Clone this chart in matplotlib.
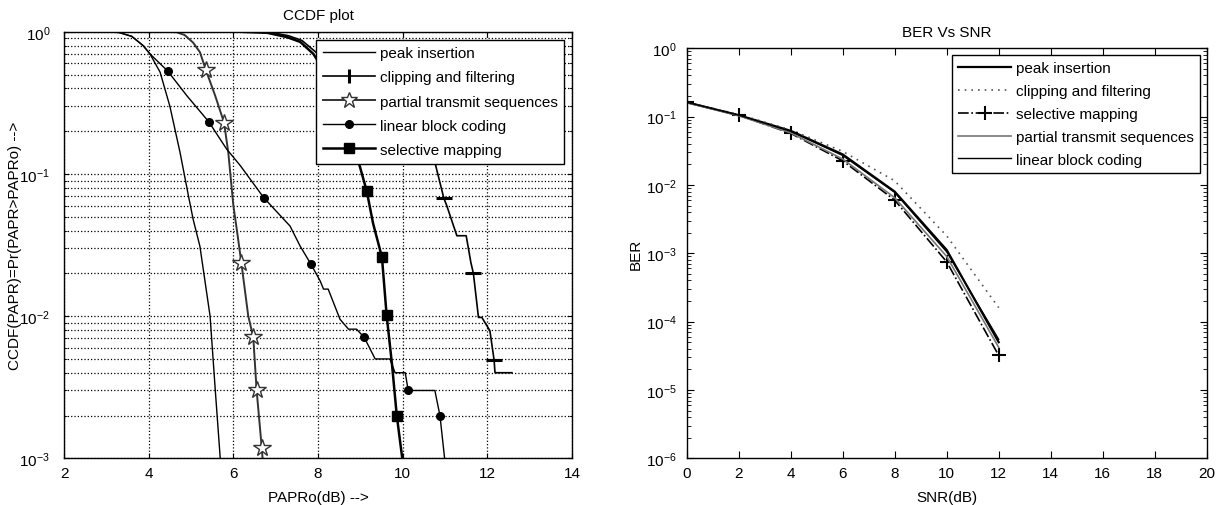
import matplotlib
matplotlib.use("Agg")
import matplotlib.pyplot as plt
from matplotlib import font_manager
from matplotlib.lines import Line2D
from matplotlib.ticker import LogLocator, NullFormatter, FixedLocator

names = {f.name for f in font_manager.fontManager.ttflist}
fam = "Liberation Sans Narrow" if "Liberation Sans Narrow" in names else "Liberation Sans"
plt.rcParams['font.family'] = [fam, 'DejaVu Sans']
plt.rcParams['mathtext.fontset'] = 'custom'
plt.rcParams['mathtext.rm'] = fam
plt.rcParams['mathtext.it'] = fam
plt.rcParams['mathtext.bf'] = fam

# ---------------- CCDF data ----------------
peak_x = [3.0, 3.3, 3.6, 3.87, 4.03, 4.27, 4.50, 4.74, 4.94, 5.05, 5.21, 5.45, 5.57, 5.69]
peak_y = [1.0, 0.99, 0.93, 0.80, 0.70, 0.52, 0.30, 0.142, 0.070, 0.048, 0.031, 0.010, 0.0031, 0.001]

clip_x = [6.3, 6.9, 7.3, 7.62, 7.95, 8.5, 9.1, 9.7, 10.3, 10.76, 10.97, 11.04, 11.28, 11.50, 11.61,
          11.67, 11.79, 11.87, 12.06, 12.16, 12.18, 12.58]
clip_y = [1.0, 0.99, 0.94, 0.87, 0.72, 0.52, 0.38, 0.27, 0.18, 0.121, 0.068, 0.060, 0.0368, 0.0368,
          0.0239, 0.020, 0.0098, 0.0098, 0.0079, 0.0049, 0.004, 0.004]
clip_marks = [10, 15, 19]

pts_x = [4.4, 4.66, 4.85, 5.05, 5.21, 5.35, 5.57, 5.78, 5.88, 6.0, 6.09, 6.19, 6.35, 6.47, 6.55, 6.67, 6.69]
pts_y = [1.0, 0.995, 0.95, 0.84, 0.72, 0.54, 0.356, 0.23, 0.142, 0.060, 0.039, 0.0236, 0.0101, 0.0071,
         0.003, 0.00119, 0.001]
pts_marks = [5, 7, 11, 13, 14, 15]

lbc_x = [3.0, 3.3, 3.6, 3.87, 4.03, 4.45, 4.90, 5.42, 5.84, 6.16, 6.72, 7.34, 7.58, 7.83, 8.05, 8.13,
         8.24, 8.52, 8.72, 8.91, 9.09, 9.35, 9.70, 9.82, 10.06, 10.13, 10.76, 10.88, 10.99]
lbc_y = [1.0, 0.99, 0.93, 0.80, 0.70, 0.53, 0.356, 0.233, 0.15, 0.115, 0.068, 0.043, 0.031, 0.0233,
         0.0177, 0.0155, 0.0155, 0.0095, 0.0081, 0.0081, 0.0071, 0.0050, 0.0050, 0.0040, 0.0040,
         0.0030, 0.0030, 0.0020, 0.001]
lbc_marks = [5, 7, 10, 13, 20, 25, 27]

slm_x = [6.24, 6.8, 7.26, 7.58, 7.89, 8.2, 8.5, 8.75, 8.96, 9.15, 9.3, 9.51, 9.62, 9.75, 9.86, 9.99]
slm_y = [1.0, 0.985, 0.92, 0.85, 0.70, 0.50, 0.32, 0.19, 0.121, 0.076, 0.045, 0.026, 0.0102, 0.0045,
         0.002, 0.001]
slm_marks = [9, 11, 12, 14]

# ---------------- BER data ----------------
snr = [0, 2, 4, 6, 8, 10, 12]
ber_peak = [0.162, 0.105, 0.062, 0.028, 0.0080, 0.00112, 5.0e-5]
ber_clip = [0.162, 0.108, 0.064, 0.031, 0.0115, 0.0018, 1.6e-4]
ber_slm = [0.162, 0.105, 0.057, 0.0226, 0.0060, 7.5e-4, 3.2e-5]
ber_pts = [0.160, 0.103, 0.058, 0.024, 0.0065, 9.0e-4, 4.2e-5]
ber_lbc = [0.162, 0.105, 0.061, 0.027, 0.0078, 1.05e-3, 5.5e-5]

FS = 11
fig = plt.figure(figsize=(12.22, 5.06), dpi=100)
ax1 = fig.add_axes([0.0524, 0.0923, 0.4157, 0.8427])
ax2 = fig.add_axes([0.5619, 0.0923, 0.4256, 0.8103])

# ---- left ----
ax1.plot(peak_x, peak_y, color='black', lw=1.0)
ax1.plot(clip_x, clip_y, color='black', lw=1.2, marker='_', ms=12, mew=2.2, markevery=clip_marks)
ax1.plot(pts_x, pts_y, color='#333333', lw=1.4, marker='*', ms=13, mfc='white', mec='#333333',
         mew=1.0, markevery=pts_marks)
ax1.plot(lbc_x, lbc_y, color='black', lw=1.0, marker='o', ms=5.5, markevery=lbc_marks)
ax1.plot(slm_x, slm_y, color='black', lw=1.8, marker='s', ms=7.5, markevery=slm_marks)
ax1.set_yscale('log')
ax1.set_xlim(2, 14)
ax1.set_ylim(1e-3, 1)
ax1.set_xticks([2, 4, 6, 8, 10, 12, 14])
ax1.yaxis.set_major_locator(FixedLocator([1e-3, 1e-2, 1e-1, 1]))
ax1.set_yticklabels([r'$10^{-3}$', r'$10^{-2}$', r'$10^{-1}$', r'$10^{0}$'])
ax1.yaxis.set_minor_locator(LogLocator(base=10, subs=range(2, 10)))
ax1.yaxis.set_minor_formatter(NullFormatter())
ax1.grid(True, which='major', axis='x', linestyle=':', color='black', lw=0.9)
ax1.grid(True, which='both', axis='y', linestyle=':', color='black', lw=0.9)
ax1.tick_params(which='both', direction='in', top=True, right=True, labelsize=FS)
ax1.tick_params(axis='y', which='major', pad=10)
ax1.tick_params(axis='x', which='major', pad=5.5)
ax1.set_title('CCDF plot', fontsize=FS, pad=9)
ax1.set_xlabel('PAPRo(dB) -->', fontsize=FS, labelpad=7)
ax1.set_ylabel('CCDF(PAPR)=Pr(PAPR>PAPRo) -->', fontsize=FS)
ax1.yaxis.set_label_coords(-0.082, 0.5)

h1 = [Line2D([], [], color='black', lw=1.0),
      Line2D([], [], color='black', lw=1.2, marker='|', ms=10, mew=2.2),
      Line2D([], [], color='#333333', lw=1.4, marker='*', ms=12, mfc='white', mec='#333333', mew=1.0),
      Line2D([], [], color='black', lw=1.0, marker='o', ms=5.5),
      Line2D([], [], color='black', lw=1.8, marker='s', ms=7.5)]
l1 = ['peak insertion', 'clipping and filtering', 'partial transmit sequences',
      'linear block coding', 'selective mapping']
leg1 = ax1.legend(h1, l1, loc='upper right', fontsize=FS, frameon=True, fancybox=False,
                  edgecolor='black', framealpha=1, borderaxespad=0.5, handlelength=3.4,
                  handletextpad=0.3, labelspacing=0.66, borderpad=0.45)
leg1.get_frame().set_linewidth(1.0)

# ---- right ----
ax2.plot(snr, ber_peak, color='black', lw=1.6, label='peak insertion')
ax2.plot(snr, ber_clip, color='#555555', lw=1.2, linestyle=(0, (1, 3)), label='clipping and filtering')
ax2.plot(snr, ber_slm, color='black', lw=1.2, linestyle='-.', marker='+', ms=10, mew=1.5,
         label='selective mapping')
ax2.plot(snr, ber_pts, color='#777777', lw=1.2, label='partial transmit sequences')
ax2.plot(snr, ber_lbc, color='black', lw=1.0, label='linear block coding')
ax2.set_yscale('log')
ax2.set_xlim(0, 20)
ax2.set_ylim(1e-6, 1)
ax2.set_xticks(range(0, 21, 2))
ax2.yaxis.set_major_locator(FixedLocator([1e-6, 1e-5, 1e-4, 1e-3, 1e-2, 1e-1, 1]))
ax2.set_yticklabels([r'$10^{-6}$', r'$10^{-5}$', r'$10^{-4}$', r'$10^{-3}$', r'$10^{-2}$',
                     r'$10^{-1}$', r'$10^{0}$'])
ax2.yaxis.set_minor_locator(LogLocator(base=10, subs=range(2, 10)))
ax2.yaxis.set_minor_formatter(NullFormatter())
ax2.tick_params(which='both', direction='in', top=True, right=True, labelsize=FS)
ax2.tick_params(which='major', length=5)
ax2.tick_params(which='minor', length=3)
ax2.tick_params(axis='y', which='major', pad=7)
ax2.tick_params(axis='x', which='major', pad=5.5)
ax2.set_title('BER Vs SNR', fontsize=FS, pad=9)
ax2.set_xlabel('SNR(dB)', fontsize=FS, labelpad=7)
ax2.set_ylabel('BER', fontsize=FS)
ax2.yaxis.set_label_coords(-0.084, 0.5)
leg2 = ax2.legend(loc='upper right', fontsize=FS, frameon=True, fancybox=False, edgecolor='black',
                  framealpha=1, borderaxespad=0.45, handlelength=3.5, handletextpad=0.3,
                  labelspacing=0.58, borderpad=0.4)
leg2.get_frame().set_linewidth(1.0)

for ax in (ax1, ax2):
    for s in ax.spines.values():
        s.set_linewidth(1.0)

fig.savefig('out.png', dpi=100)
